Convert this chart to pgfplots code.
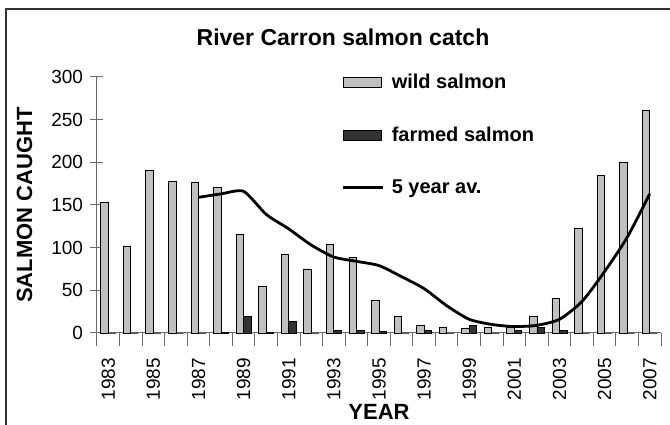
\documentclass[border=0pt]{standalone}
\usepackage{fontspec}
\setmainfont{Liberation Sans}
\usepackage{pgfplots}
\pgfplotsset{compat=1.18}
\definecolor{wildgray}{HTML}{C0C0C0}
\definecolor{farmgray}{HTML}{333333}
\definecolor{axisgray}{HTML}{6A6A6A}
\begin{document}
\begin{tikzpicture}[x=1pt,y=1pt]
\useasboundingbox (0,0) rectangle (670,425);
\draw[line width=1.5pt, black!80] (6,-5) -- (6,416) -- (690,416);
\node[font=\fontsize{23}{27}\selectfont\bfseries] at (343,388) {River Carron salmon catch};
\begin{axis}[
  at={(97pt,92pt)}, anchor=south west,
  scale only axis, width=564pt, height=256pt,
  xmin=-0.5, xmax=24.5, ymin=0, ymax=300,
  enlargelimits=false, clip=false,
  axis lines=left,
  axis line style={-, draw=axisgray, line width=1pt},
  every tick/.style={draw=axisgray, line width=1pt},
  tick align=center,
  major tick length=13pt, minor tick length=13pt,
  ytick={0,50,...,300},
  xtick={0,2,...,24},
  xticklabels={1983,1985,1987,1989,1991,1993,1995,1997,1999,2001,2003,2005,2007},
  every major x tick/.style={draw=none},
  minor xtick={-0.5,0.5,...,24.5},
  /pgf/number format/assume math mode=true,
  ticklabel style={font=\fontsize{19}{23}\selectfont},
  xticklabel style={yshift=-12pt, rotate=90, anchor=east, inner sep=0pt},
  yticklabel style={xshift=-4pt},
  xlabel={YEAR},
  ylabel={SALMON CAUGHT},
  label style={font=\fontsize{22}{26}\selectfont\bfseries},
  xlabel style={at={(axis description cs:0.5,0)}, anchor=center, yshift=-79pt},
  ylabel style={at={(axis description cs:-0.1285,0.5)}, anchor=center},
  ybar=0pt, bar width=7.5pt,
  legend style={at={(axis description cs:0.434,1.02)}, anchor=north west,
    draw=none, fill=none, font=\fontsize{20}{24}\selectfont\bfseries,
    row sep=33pt, column sep=5pt, inner sep=0pt, cells={anchor=west}},
]
\addplot[fill=wildgray, draw=black, line width=0.8pt,
  legend image code/.code={\draw[fill=wildgray, draw=black, line width=0.8pt] (0pt,-5pt) rectangle (38pt,5pt);}]
  coordinates {(0,153) (1,102) (2,190) (3,178) (4,176) (5,171) (6,116) (7,55) (8,92) (9,75)
   (10,104) (11,89) (12,38) (13,19) (14,9) (15,7) (16,5) (17,6) (18,6) (19,19)
   (20,41) (21,122) (22,185) (23,200) (24,261)};
\addlegendentry{wild salmon}
\addplot[fill=farmgray, draw=black, line width=0.8pt,
  legend image code/.code={\draw[fill=farmgray, draw=black, line width=0.8pt] (0pt,-5pt) rectangle (38pt,5pt);}]
  coordinates {(0,0) (1,0) (2,0) (3,0) (4,0) (5,1) (6,19) (7,1) (8,14) (9,0)
   (10,3) (11,3) (12,1.5) (13,0) (14,3) (15,0) (16,9) (17,0) (18,3) (19,7)
   (20,3) (21,0) (22,0) (23,0) (24,0)};
\addlegendentry{farmed salmon}
\addplot[sharp plot, smooth, tension=0.4, black, line width=2.8pt,
  legend image code/.code={\draw[black, line width=2.8pt] (0pt,0pt) -- (40pt,0pt);}]
  coordinates {(4,159) (5,163) (6,166) (7,139) (8,122) (9,103) (10,89) (11,84) (12,79) (13,66)
   (14,52) (15,32) (16,16) (17,10) (18,7.5) (19,9) (20,16) (21,37) (22,72) (23,112) (24,163)};
\addlegendentry{5 year av.}
\end{axis}
\end{tikzpicture}
\end{document}
